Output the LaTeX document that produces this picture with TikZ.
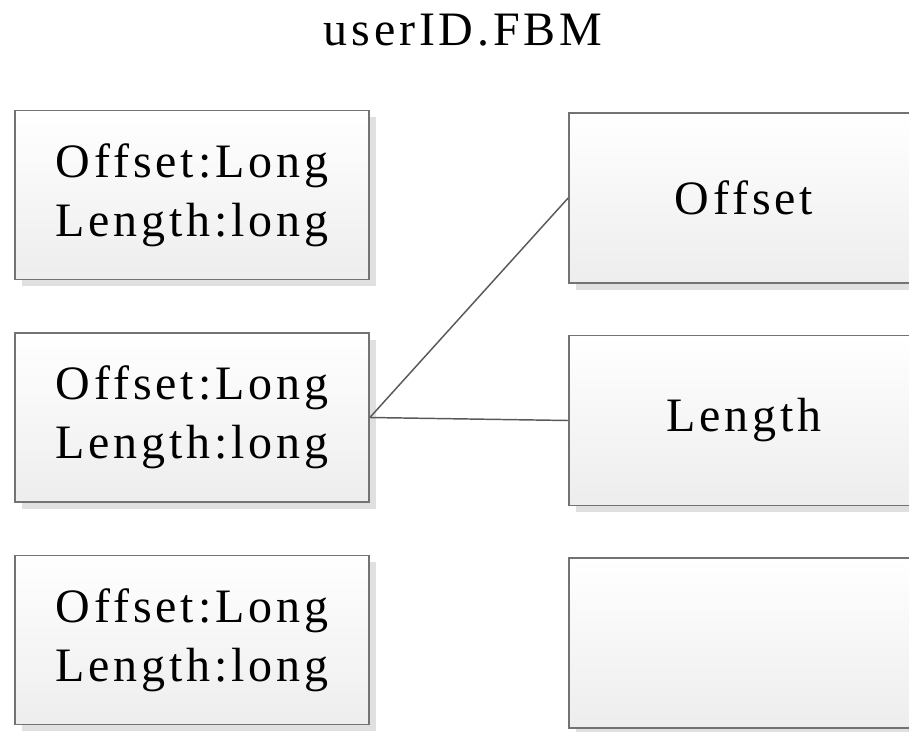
\documentclass[tikz,border=0pt]{standalone}
\usepackage{fontspec}
\setmainfont{Liberation Serif}
\usetikzlibrary{shadows}

\tikzset{
  boxtext/.style={font=\fontsize{36}{44}\selectfont\addfontfeatures{LetterSpace=8}},
  record/.style={boxtext, draw=black!55, line width=1.3pt, top color=white, bottom color=black!7,
    align=center, inner sep=0pt, minimum width=265.5pt, minimum height=126.75pt,
    drop shadow={shadow xshift=5pt, shadow yshift=-5pt, fill=black!12, opacity=1}},
  slot/.style={record, minimum width=262.5pt, minimum height=127.5pt},
  link/.style={draw=black!65, line width=1.1pt}
}

\begin{document}
\begin{tikzpicture}[x=0.75pt, y=-0.75pt]
  \useasboundingbox (0,0) rectangle (909,731);
  \node[boxtext] (title) at (463,30) {userID.FBM};
  % left column
  \node[record] (rec1) at (192,195) {Offset:Long\\Length:long};
  \node[record] (rec2) at (192,417.5) {Offset:Long\\Length:long};
  \node[record] (rec3) at (192,640) {Offset:Long\\Length:long};
  % right column
  \node[slot] (off) at (744,198) {Offset};
  \node[slot] (len) at (744,420.5) {Length};
  \node[slot] (empty) at (744,643) {};
  \draw[link] (rec2.east) -- (off.west);
  \draw[link] (rec2.east) -- (len.west);
\end{tikzpicture}
\end{document}
